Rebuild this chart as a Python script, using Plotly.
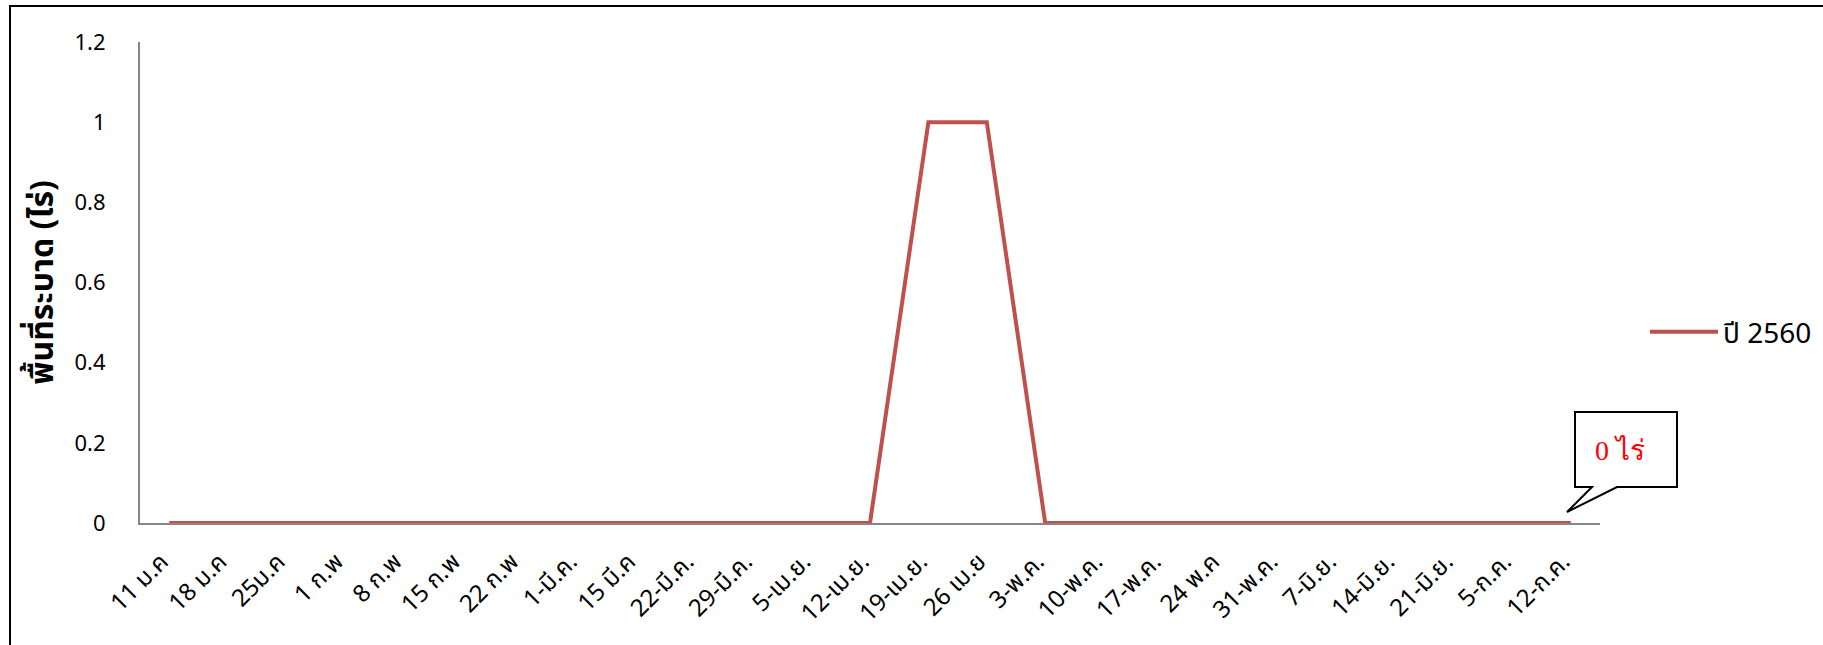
import plotly.graph_objects as go

categories = ["11 ม.ค", "18 ม.ค", "25ม.ค", "1 ก.พ", "8 ก.พ", "15 ก.พ", "22 ก.พ",
              "1-มี.ค.", "15 มี.ค", "22-มี.ค.", "29-มี.ค.", "5-เม.ย.", "12-เม.ย.",
              "19-เม.ย.", "26 เม.ย", "3-พ.ค.", "10-พ.ค.", "17-พ.ค.", "24 พ.ค",
              "31-พ.ค.", "7-มิ.ย.", "14-มิ.ย.", "21-มิ.ย.", "5-ก.ค.", "12-ก.ค."]
values_2560 = [0, 0, 0, 0, 0, 0, 0, 0, 0, 0, 0, 0, 0,
               1, 1, 0, 0, 0, 0, 0, 0, 0, 0, 0, 0]
series_name = "ปี 2560"
y_title = "พื้นที่ระบาด (ไร่)"
y_ticks = [0, 0.2, 0.4, 0.6, 0.8, 1, 1.2]
callout_text = "0 ไร่"

W, H = 1823, 645
L, R, T, B = 140, 223, 42, 122
PW, PH = W - L - R, H - T - B

def px(x):
    return (x - L) / PW

def py(y):
    return (H - B - y) / PH

FONT = "Tahoma, 'Noto Sans Thai', 'Noto Sans', 'DejaVu Sans', sans-serif"

fig = go.Figure()
fig.add_trace(go.Scatter(
    x=categories, y=values_2560, mode="lines", name=series_name,
    line=dict(color="#C0504D", width=4),
))

fig.update_layout(
    width=W, height=H,
    margin=dict(l=L, r=R, t=T, b=B, autoexpand=False),
    paper_bgcolor="white", plot_bgcolor="white",
    font=dict(family=FONT, size=18, color="#000000"),
    showlegend=True,
    legend=dict(x=px(1645), y=py(332), xanchor="left", yanchor="middle",
                font=dict(size=28, color="#000000"), itemwidth=68,
                bgcolor="rgba(0,0,0,0)"),
    xaxis=dict(
        type="category", range=[-0.5, len(categories) - 0.5],
        showline=True, linecolor="#868686", linewidth=2,
        showgrid=False, zeroline=False, ticks="",
        tickangle=-45, tickfont=dict(size=24, color="#000000"),
        ticklabelstandoff=13, ticklabelshift=-8, automargin=False,
    ),
    yaxis=dict(
        range=[0, 1.2], tickvals=y_ticks, ticktext=[f"{v:g}" for v in y_ticks],
        showline=True, linecolor="#868686", linewidth=2,
        showgrid=False, zeroline=False, ticks="",
        tickfont=dict(size=22, color="#000000"),
        ticklabelstandoff=28, automargin=False,
        title=dict(text="<b>" + y_title + "</b>",
                   font=dict(size=32, color="#000000", family=FONT),
                   standoff=11),
    ),
)

# outer frame
fig.add_shape(type="rect", xref="paper", yref="paper",
              x0=px(10), y0=py(6), x1=px(W + 10), y1=py(H + 10),
              line=dict(color="black", width=2), fillcolor="rgba(0,0,0,0)",
              layer="below")

# callout box
pts = [(1575, 412), (1677, 412), (1677, 487), (1617, 487), (1567, 512),
       (1592, 487), (1575, 487)]
path = "M " + " L ".join(f"{px(a):.5f},{py(b):.5f}" for a, b in pts) + " Z"
fig.add_shape(type="path", xref="paper", yref="paper", path=path,
              line=dict(color="black", width=2), fillcolor="white")
fig.add_annotation(xref="paper", yref="paper", x=px(1620), y=py(450),
                   xanchor="center", yanchor="middle",
                   text=callout_text, showarrow=False,
                   font=dict(family="'Liberation Serif', 'Times New Roman', serif",
                             size=28, color="red"))

fig.write_html("out.html", config={"displayModeBar": False},
               post_script="document.body.style.margin='0';")
